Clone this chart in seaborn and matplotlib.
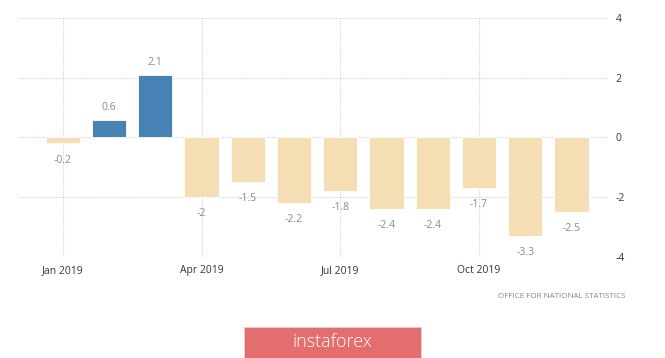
import matplotlib
matplotlib.use("Agg")
import matplotlib.pyplot as plt
import seaborn as sns
import pandas as pd
from matplotlib.patches import Rectangle

months = ["Jan 2019", "Feb 2019", "Mar 2019", "Apr 2019", "May 2019", "Jun 2019",
          "Jul 2019", "Aug 2019", "Sep 2019", "Oct 2019", "Nov 2019", "Dec 2019"]
values = [-0.2, 0.6, 2.1, -2.0, -1.5, -2.2, -1.8, -2.4, -2.4, -1.7, -3.3, -2.5]
value_labels = ["-0.2", "0.6", "2.1", "-2", "-1.5", "-2.2", "-1.8", "-2.4", "-2.4", "-1.7", "-3.3", "-2.5"]
xtick_labels = ["Jan 2019", "Apr 2019", "Jul 2019", "Oct 2019"]
ytick_values = [-4, -2, 0, 2, 4]
source = "OFFICE FOR NATIONAL STATISTICS"
brand = "instaforex"

df = pd.DataFrame({"month": months, "value": values,
                   "sign": ["pos" if v >= 0 else "neg" for v in values]})

sns.set_theme(style="white")
plt.rcParams["font.family"] = ["Open Sans", "DejaVu Sans"]

fig = plt.figure(figsize=(6.65, 3.58), dpi=100)
ax = fig.add_axes([0.027, 0.282, 0.888, 0.668])

sns.barplot(data=df, x="month", y="value", hue="sign",
            palette={"pos": "#4682B4", "neg": "#F5DEB3"}, saturation=1,
            dodge=False, width=0.74, legend=False, ax=ax,
            edgecolor="white", linewidth=0.6)

ax.set_xlim(-0.97, 11.8)
ax.set_ylim(-4, 4)
ax.set_xlabel("")
ax.set_ylabel("")

for i, (v, t) in enumerate(zip(values, value_labels)):
    off = 9 if v >= 0 else -12
    ax.annotate(t, (i, v), xytext=(0, off), textcoords="offset points",
                ha="center", va="center", fontsize=7.5, color="#8a8a8a")

xt_pos = [months.index(m) for m in xtick_labels]
ax.set_xticks(xt_pos)
ax.set_xticklabels(xtick_labels)
ax.yaxis.tick_right()
ax.set_yticks(ytick_values)
ax.set_yticklabels([str(v) for v in ytick_values])
ax.tick_params(axis="x", length=4, color="#dddddd", labelsize=7.5, labelcolor="#333344", pad=2)
ax.tick_params(axis="y", length=0, labelsize=7.5, labelcolor="#333344", pad=5)

ax.grid(True, axis="both", linestyle=(0, (1, 1)), color="#d6d6d6", linewidth=0.8)
ax.set_axisbelow(True)
for s in ax.spines.values():
    s.set_visible(False)

fig.text(0.940, 0.173, source, ha="right", va="center", fontsize=5.8,
         color="#888888")

banner = Rectangle((244 / 665, 0.0), 177 / 665, 31 / 358, transform=fig.transFigure,
                   facecolor="#E46E6E", edgecolor="#d9d9d9", linewidth=0.5)
fig.patches.append(banner)
fig.text(332 / 665, 16 / 358, brand, ha="center", va="center", fontsize=13,
         color="white", fontweight="light")

fig.savefig("out.png", dpi=100)
